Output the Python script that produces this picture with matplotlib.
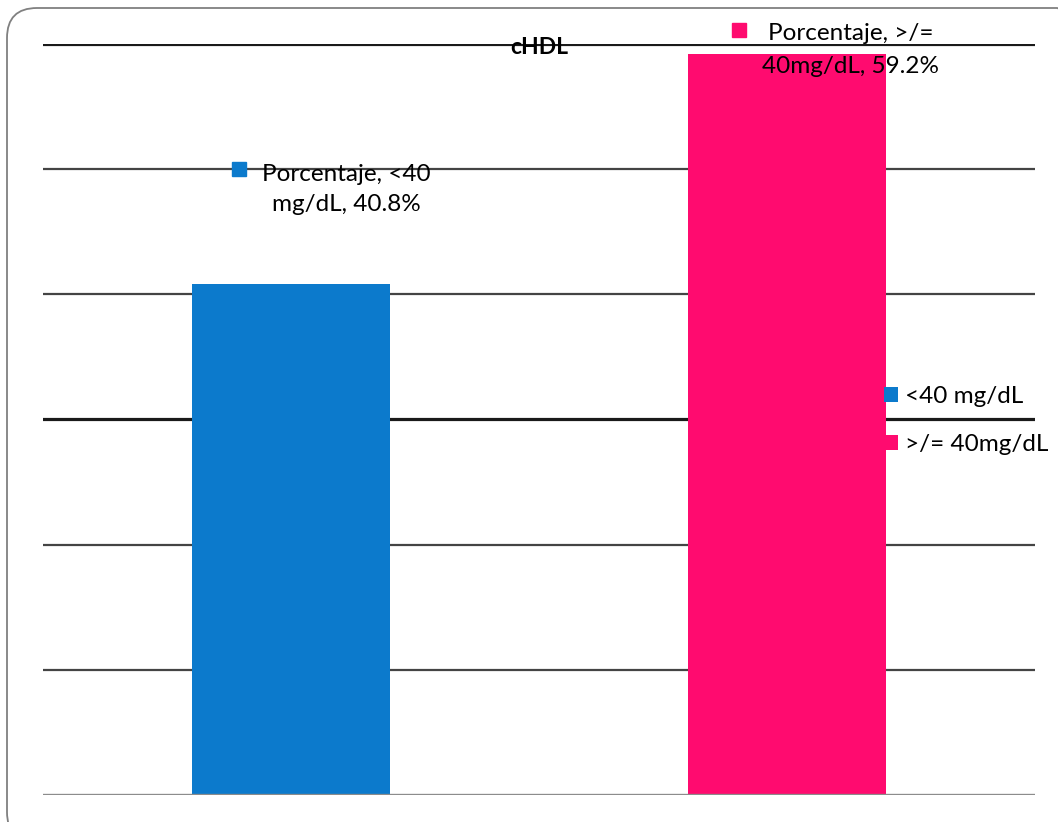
import matplotlib
matplotlib.use("Agg")
import matplotlib.pyplot as plt
from matplotlib.patches import FancyBboxPatch, Patch
from matplotlib.transforms import IdentityTransform, offset_copy

plt.rcParams['font.family'] = ['Lato', 'DejaVu Sans']

# Data
categories = ['<40 mg/dL', '>/= 40mg/dL']
percentages = [40.8, 59.2]
label_texts = ['Porcentaje, <40\nmg/dL, 40.8%', 'Porcentaje, >/=\n40mg/dL, 59.2%']
colors = ['#0C7ACC', '#FF0B6F']
title = 'cHDL'

DPI = 100
fig = plt.figure(figsize=(10.58, 8.22), dpi=DPI)
ax = fig.add_axes([43 / 1058, 1 - 795 / 822, 992 / 1058, 751 / 822])

x = list(range(len(categories)))
ax.bar(x, percentages, width=0.4, color=colors, zorder=2)
ax.set_xlim(-0.5, 1.5)
ax.set_ylim(0, 60)

# Horizontal rules every 10 units
ax.set_yticks(range(0, 70, 10))
for v in range(10, 70, 10):
    if v in (30, 60):
        ax.axhline(v, color='#1a1a1a', lw=2.3, zorder=1)
    else:
        ax.axhline(v, color='#444444', lw=1.6, zorder=1)
ax.axhline(0, color='#8c8c8c', lw=2.4, zorder=3)

for s in ax.spines.values():
    s.set_visible(False)
ax.tick_params(left=False, bottom=False, labelleft=False, labelbottom=False)

# Data labels with legend keys
text_offsets = [(55, 95), (64, 4)]   # pixels from the top centre of each bar
key_offsets = [(-52, 115), (-48, 24)]
line_gaps = [1.5, 1.65]
for i, (val, txt, col) in enumerate(zip(percentages, label_texts, colors)):
    dx, dy = text_offsets[i]
    ax.annotate(txt, xy=(i, val), xytext=(dx * 72 / DPI, dy * 72 / DPI),
                textcoords='offset points', ha='center', va='center',
                fontsize=17.5, linespacing=line_gaps[i], zorder=5,
                annotation_clip=False)
    kx, ky = key_offsets[i]
    tr = offset_copy(ax.transData, fig=fig, x=kx * 72 / DPI, y=ky * 72 / DPI, units='points')
    ax.plot([i], [val], marker='s', markersize=10.5, color=col, transform=tr,
            zorder=5, clip_on=False)

ax.text(0.5, 0.995, title, transform=ax.transAxes, ha='center', va='center',
        fontsize=16.5, fontweight='bold', zorder=6)

handles = [Patch(facecolor=c, edgecolor='none') for c in colors]
fig.legend(handles, categories, loc='upper left',
           bbox_to_anchor=(884 / 1058, 1 - 386 / 822), frameon=False,
           fontsize=17.5, handlelength=0.58, handleheight=0.58,
           handletextpad=0.3, labelspacing=1.12, borderpad=0, borderaxespad=0)

# Rounded frame around the figure
frame = FancyBboxPatch((7, -20), 1080, 834,
                       boxstyle='round,pad=0,rounding_size=30',
                       transform=IdentityTransform(), facecolor='none',
                       edgecolor='#808080', lw=1.3)
fig.patches.append(frame)

fig.savefig('out.png', dpi=DPI)
